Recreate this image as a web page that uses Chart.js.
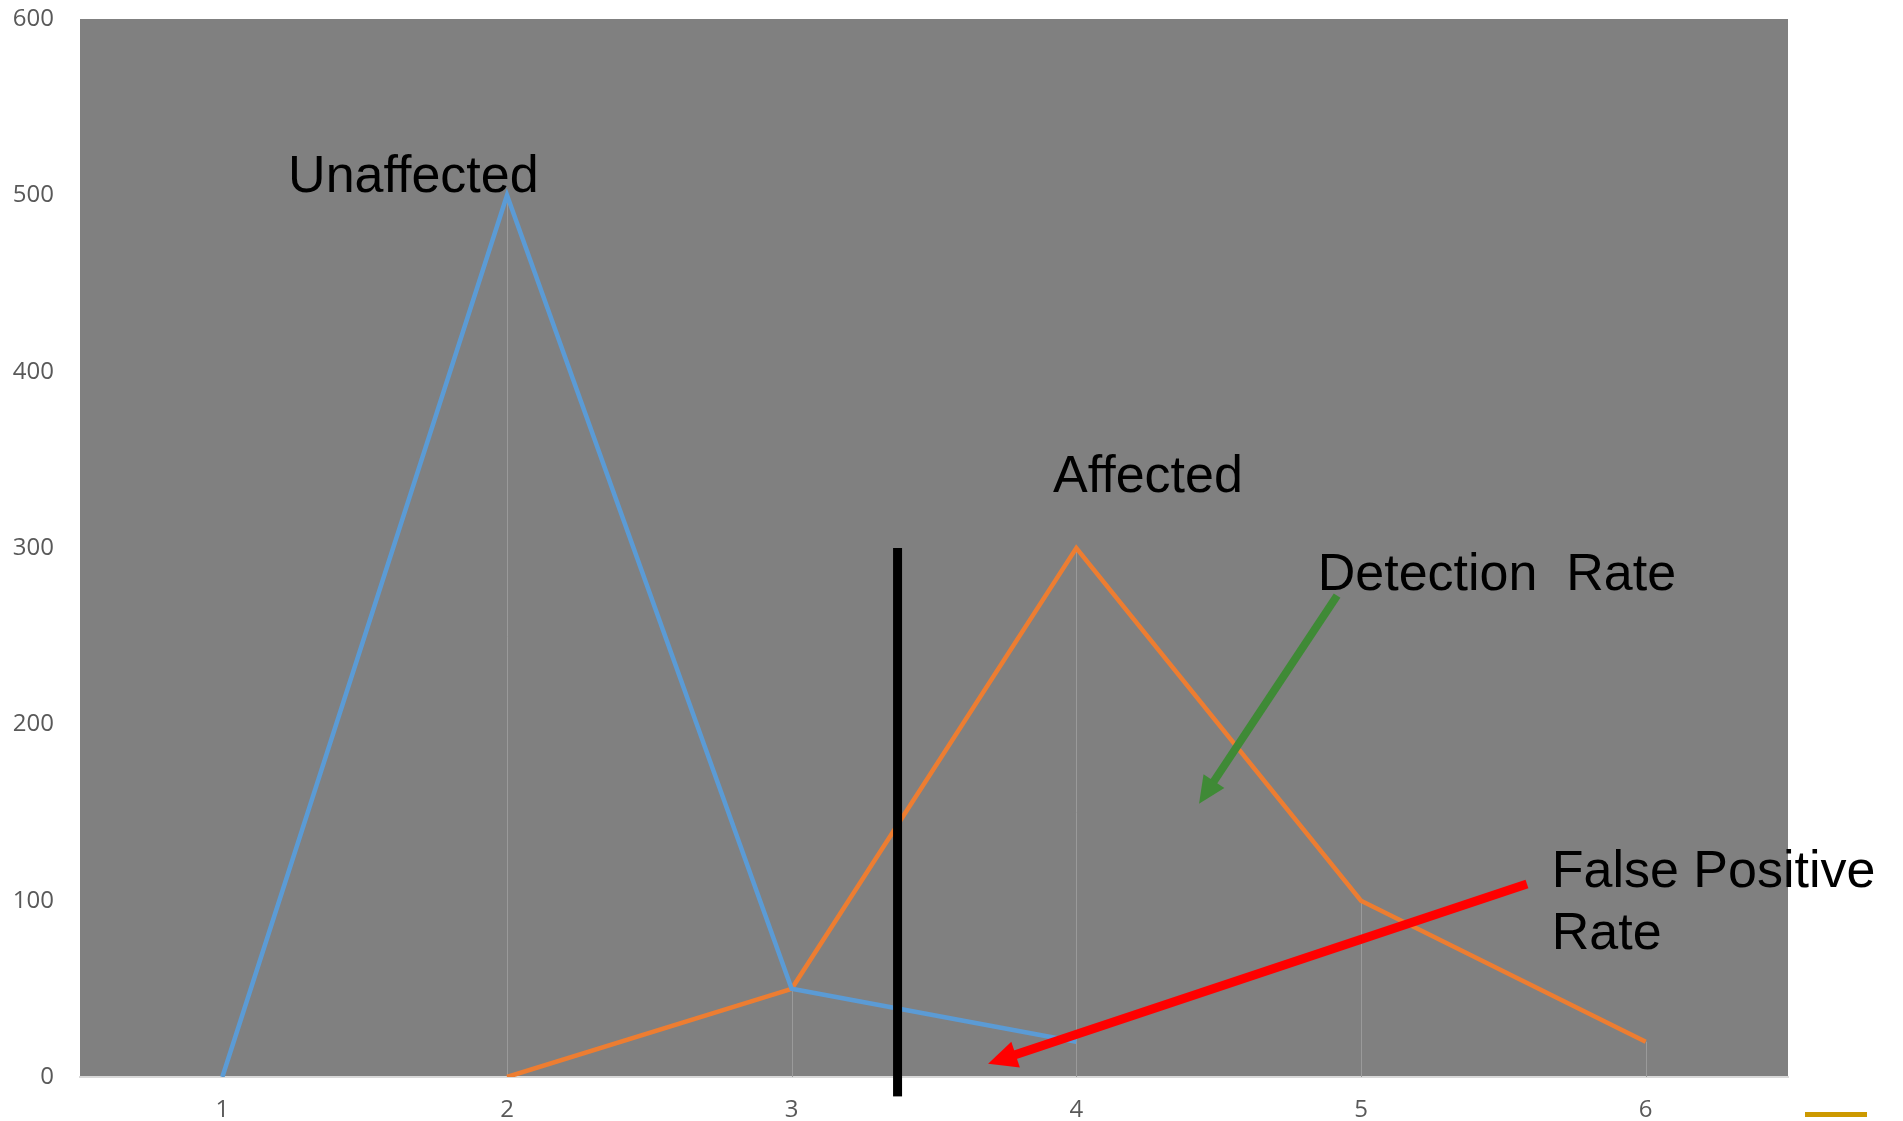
<!DOCTYPE html>
<html>
<head>
<meta charset="utf-8">
<script src="https://cdn.jsdelivr.net/npm/chart.js@4/dist/chart.umd.min.js"></script>
<style>
  html, body { margin: 0; padding: 0; background: #ffffff; }
  #wrap { width: 1903px; height: 1121px; position: relative; }
</style>
</head>
<body>
<div id="wrap"><canvas id="chart"></canvas></div>
<script>
// Categories along the x axis
const categories = ['1', '2', '3', '4', '5', '6'];

// Population counts per test score
const unaffected = [0, 500, 50, 20, null, null];
const affected = [null, 0, 50, 300, 100, 20];

// Value axis ticks
const yTicks = [0, 100, 200, 300, 400, 500, 600];

// Decision threshold, expressed on the category axis (between 3 and 4)
const thresholdPosition = 2.372;   // category index
const thresholdTop = 300;
const thresholdBottom = -11;

// Text callouts and arrows, positioned in axis units (category index, value)
const callouts = [
  { lines: ['Unaffected'], x: 0.231, y: 502 },
  { lines: ['Affected'], x: 2.918, y: 332 },
  { lines: ['Detection  Rate'], x: 3.848, y: 276 },
  { lines: ['False Positive', 'Rate'], x: 4.670, y: 108 }
];
const arrows = [
  { from: [3.916, 273], to: [3.431, 155], color: '#3f8a36', width: 8, head: 27, headW: 25 },
  { from: [4.583, 109.5], to: [2.690, 7.5], color: '#ff0000', width: 9, head: 29, headW: 27 }
];

// Grey plot background
const plotBackground = {
  id: 'plotBackground',
  beforeDraw(chart) {
    const { ctx, chartArea: a } = chart;
    ctx.save();
    ctx.fillStyle = '#808080';
    ctx.fillRect(a.left, a.top, a.right - a.left, a.bottom - a.top);
    ctx.restore();
  }
};

// Drop lines from the highest point of each category down to the axis
const dropLines = {
  id: 'dropLines',
  beforeDatasetsDraw(chart) {
    const { ctx, chartArea: a, scales: { x, y } } = chart;
    ctx.save();
    ctx.strokeStyle = '#9a9a9a';
    ctx.lineWidth = 1;
    categories.forEach((c, i) => {
      const vals = chart.data.datasets.map(d => d.data[i]).filter(v => v !== null && v !== undefined);
      if (!vals.length) return;
      const top = Math.max(...vals);
      const px = Math.round(x.getPixelForValue(i)) + 0.5;
      ctx.beginPath();
      ctx.moveTo(px, y.getPixelForValue(top));
      ctx.lineTo(px, a.bottom);
      ctx.stroke();
    });
    ctx.restore();
  }
};

function drawArrow(ctx, x1, y1, x2, y2, color, w, headLen, headW) {
  const ang = Math.atan2(y2 - y1, x2 - x1);
  const bx = x2 - headLen * Math.cos(ang);
  const by = y2 - headLen * Math.sin(ang);
  ctx.save();
  ctx.strokeStyle = color;
  ctx.fillStyle = color;
  ctx.lineWidth = w;
  ctx.lineCap = 'butt';
  ctx.beginPath();
  ctx.moveTo(x1, y1);
  ctx.lineTo(bx + Math.cos(ang) * 2, by + Math.sin(ang) * 2);
  ctx.stroke();
  const nx = -Math.sin(ang), ny = Math.cos(ang);
  ctx.beginPath();
  ctx.moveTo(x2, y2);
  ctx.lineTo(bx + nx * headW / 2, by + ny * headW / 2);
  ctx.lineTo(bx - nx * headW / 2, by - ny * headW / 2);
  ctx.closePath();
  ctx.fill();
  ctx.restore();
}

// Threshold bar, arrows, labels and the legend key
const overlays = {
  id: 'overlays',
  afterDatasetsDraw(chart) {
    const { ctx, chartArea: a, scales: { x, y } } = chart;
    ctx.save();
    // threshold
    const tx = x.getPixelForValue(thresholdPosition);
    ctx.fillStyle = '#000000';
    const t0 = y.getPixelForValue(thresholdTop);
    const t1 = y.getPixelForValue(thresholdBottom);
    ctx.fillRect(tx - 4.5, t0, 9, t1 - t0);

    // arrows
    arrows.forEach(ar => {
      drawArrow(ctx,
        x.getPixelForValue(ar.from[0]), y.getPixelForValue(ar.from[1]),
        x.getPixelForValue(ar.to[0]), y.getPixelForValue(ar.to[1]),
        ar.color, ar.width, ar.head, ar.headW);
    });

    // callout texts
    ctx.font = '52px "Liberation Sans", Arial, sans-serif';
    ctx.fillStyle = '#000000';
    ctx.textAlign = 'left';
    ctx.textBaseline = 'alphabetic';
    callouts.forEach(c => {
      const px = x.getPixelForValue(c.x);
      const py = y.getPixelForValue(c.y);
      c.lines.forEach((t, k) => ctx.fillText(t, px, py + k * 62));
    });

    // legend key
    ctx.fillStyle = '#cc9900';
    ctx.fillRect(a.right + 17, a.bottom + 35, 62, 5);
    ctx.restore();
  }
};

new Chart(document.getElementById('chart'), {
  type: 'line',
  data: {
    labels: categories,
    datasets: [
      {
        label: 'Unaffected',
        data: unaffected,
        borderColor: '#5b9bd5',
        borderWidth: 4.5,
        pointRadius: 0,
        tension: 0,
        spanGaps: false
      },
      {
        label: 'Affected',
        data: affected,
        borderColor: '#ed7d31',
        borderWidth: 4.5,
        pointRadius: 0,
        tension: 0,
        spanGaps: false
      }
    ]
  },
  options: {
    responsive: true,
    maintainAspectRatio: false,
    devicePixelRatio: 1,
    animation: false,
    layout: { padding: { top: 19, right: 115, left: 0, bottom: 0 } },
    plugins: {
      legend: { display: false },
      tooltip: { enabled: false }
    },
    scales: {
      x: {
        type: 'category',
        offset: true,
        grid: { display: false, drawTicks: false },
        border: { display: true, color: '#d9d9d9', width: 2 },
        ticks: {
          color: '#595959',
          font: { family: '"Open Sans", sans-serif', size: 24 },
          padding: 19,
          maxRotation: 0
        },
        afterFit(s) { s.height = 44; s.paddingLeft = 0; s.paddingRight = 0; }
      },
      y: {
        min: 0,
        max: 600,
        afterBuildTicks(s) { s.ticks = yTicks.map(v => ({ value: v })); },
        grid: { display: false, drawTicks: false },
        border: { display: false },
        ticks: {
          color: '#595959',
          font: { family: '"Open Sans", sans-serif', size: 24 },
          padding: 26
        },
        afterFit(s) { s.width = 80; s.paddingTop = 0; s.paddingBottom = 0; }
      }
    }
  },
  plugins: [plotBackground, dropLines, overlays]
});
</script>
</body>
</html>
